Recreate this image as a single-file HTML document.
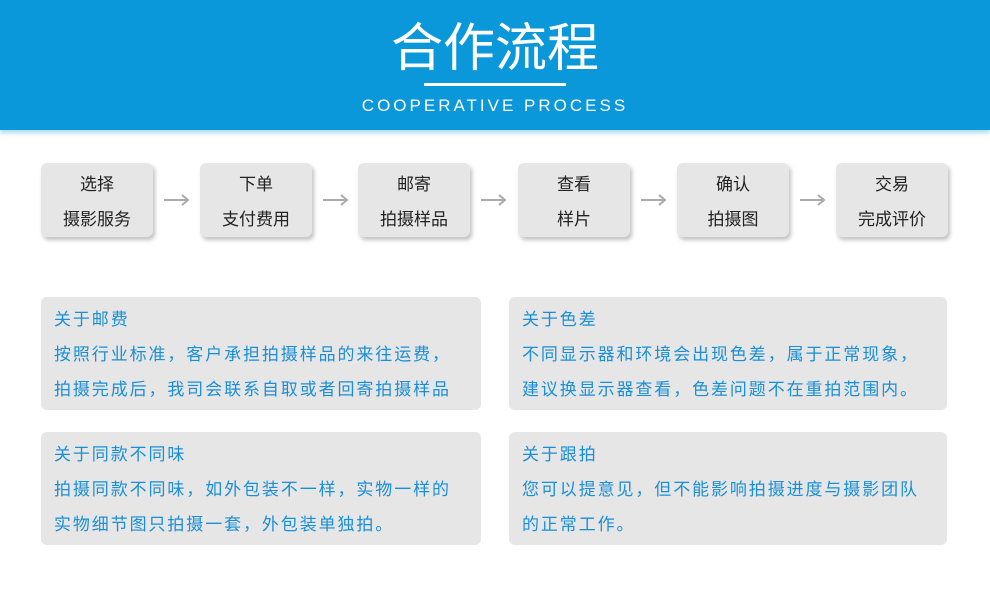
<!DOCTYPE html><html><head><meta charset="utf-8"><style>
body{margin:0;width:990px;height:600px;background:#fff;position:relative;overflow:hidden;font-family:"Noto Sans CJK SC",sans-serif}
.hd{position:absolute;left:0;top:0;width:990px;height:130px;background:#0a98db;box-shadow:0 3px 4px rgba(10,152,219,.35)}
.t{position:absolute;left:0;width:990px;text-align:center;color:#fff}
.s{position:absolute;top:163px;width:112px;height:74px;background:#e6e6e6;border-radius:6px;box-shadow:2px 3px 4px rgba(0,0,0,.25);text-align:center;font-size:17px;color:#222;line-height:22px}
.s div{position:absolute;left:0;width:100%}
.b{position:absolute;width:440px;height:113px;background:#e6e6e6;border-radius:6px;color:#1a8fd6;font-size:17px;line-height:22px;letter-spacing:1.9px}
.b div{position:absolute;left:13px;white-space:nowrap}
</style></head><body>
<div class="hd"></div>
<div class="t" style="top:12px;font-size:52px;line-height:64px;font-weight:400">合作流程</div>
<div style="position:absolute;left:424px;top:83px;width:142px;height:3px;background:#fff"></div>
<div class="t" style="top:95px;font-size:17px;letter-spacing:3px;line-height:22px;font-family:'Liberation Sans',sans-serif">COOPERATIVE PROCESS</div>

<svg style="position:absolute;left:0;top:0" width="990" height="600">
<g stroke="#aaa" stroke-width="2" fill="none">
<path d="M164 200H188M182 195L188 200L182 205"/>
<path d="M323 200H347M341 195L347 200L341 205"/>
<path d="M481 200H505M499 195L505 200L499 205"/>
<path d="M641 200H665M659 195L665 200L659 205"/>
<path d="M800 200H824M818 195L824 200L818 205"/>
</g></svg>

<div class="s" style="left:41px"><div style="top:9px">选择</div><div style="top:44px">摄影服务</div></div>
<div class="s" style="left:200px"><div style="top:9px">下单</div><div style="top:44px">支付费用</div></div>
<div class="s" style="left:358px"><div style="top:9px">邮寄</div><div style="top:44px">拍摄样品</div></div>
<div class="s" style="left:518px"><div style="top:9px">查看</div><div style="top:44px">样片</div></div>
<div class="s" style="left:677px"><div style="top:9px">确认</div><div style="top:44px">拍摄图</div></div>
<div class="s" style="left:836px"><div style="top:9px">交易</div><div style="top:44px">完成评价</div></div>

<div class="b" style="left:41px;top:297px"><div style="top:10px">关于邮费</div><div style="top:45px">按照行业标准，客户承担拍摄样品的来往运费，</div><div style="top:80px">拍摄完成后，我司会联系自取或者回寄拍摄样品</div></div>
<div class="b" style="left:509px;top:297px;width:438px"><div style="top:10px">关于色差</div><div style="top:45px">不同显示器和环境会出现色差，属于正常现象，</div><div style="top:80px">建议换显示器查看，色差问题不在重拍范围内。</div></div>
<div class="b" style="left:41px;top:432px"><div style="top:10px">关于同款不同味</div><div style="top:45px">拍摄同款不同味，如外包装不一样，实物一样的</div><div style="top:80px">实物细节图只拍摄一套，外包装单独拍。</div></div>
<div class="b" style="left:509px;top:432px;width:438px"><div style="top:10px">关于跟拍</div><div style="top:45px">您可以提意见，但不能影响拍摄进度与摄影团队</div><div style="top:80px">的正常工作。</div></div>
</body></html>
